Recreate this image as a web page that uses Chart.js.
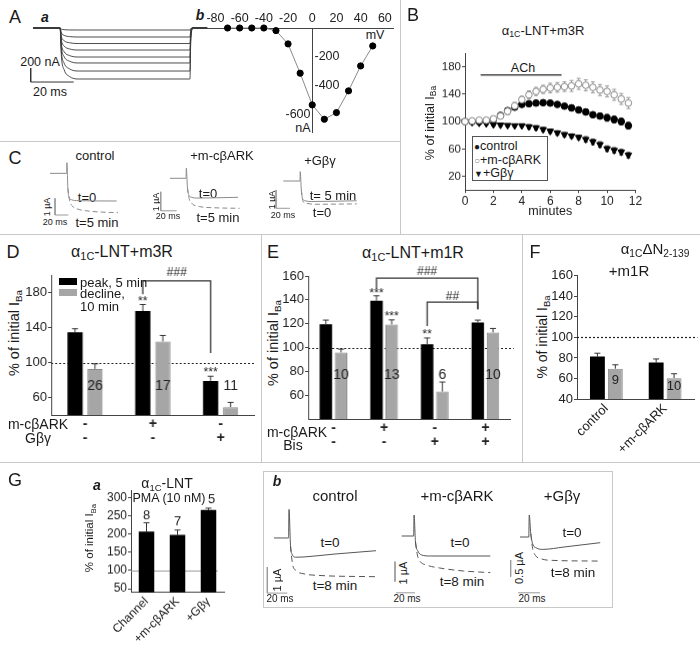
<!DOCTYPE html>
<html>
<head>
<meta charset="utf-8">
<title>Figure</title>
<script src="https://cdn.jsdelivr.net/npm/chart.js@4.4.1/dist/chart.umd.min.js"></script>
<style>
  body { margin: 0; background: #fff; font-family: "Liberation Sans", Arial, sans-serif; color: #1a1a1a; }
  #fig { position: relative; width: 700px; height: 650px; overflow: hidden; }
  .box { position: absolute; }
  .ln { position: absolute; background: #c8c8c8; }
  .t { position: absolute; white-space: nowrap; line-height: 1; transform: translate(-50%, -50%); }
  .tl { position: absolute; white-space: nowrap; line-height: 1; transform: translate(0, -50%); }
  .rot { position: absolute; white-space: nowrap; line-height: 1; transform: translate(-50%, -50%) rotate(-90deg); }
  .big { font-size: 18px; }
  .ital { font-weight: bold; font-style: italic; font-size: 14px; }
  sub { font-size: 0.68em; vertical-align: -0.3em; line-height: 0; }
</style>
</head>
<body>
<div id="fig">
  <!-- panel borders -->
  <div class="ln" style="left:0;top:141px;width:400px;height:1px"></div>
  <div class="ln" style="left:400px;top:0;width:1px;height:234px"></div>
  <div class="ln" style="left:0;top:234px;width:700px;height:1px"></div>
  <div class="ln" style="left:261px;top:234px;width:1px;height:228px"></div>
  <div class="ln" style="left:522px;top:234px;width:1px;height:228px"></div>
  <div class="ln" style="left:0;top:462px;width:700px;height:1px"></div>
  <div class="box" style="left:263px;top:471px;width:348px;height:135px;border:1px solid #c8c8c8"></div>

  <!-- A -->
  <div class="t big" style="left:15px;top:17px">A</div>
  <div class="t ital" style="left:45px;top:17px">a</div>
  <div class="t ital" style="left:200px;top:15px">b</div>
  <div class="t" style="left:40px;top:62px;font-size:12.5px">200 nA</div>
  <div class="t" style="left:50px;top:92px;font-size:12.5px">20 ms</div>
  <div class="t" style="left:375px;top:35px;font-size:12.5px">mV</div>
  <div class="t" style="left:303px;top:128px;font-size:12.5px">nA</div>
  <div class="box" id="famBox"><canvas></canvas></div>
  <div class="box" id="ivBox"><canvas></canvas></div>

  <!-- B -->
  <div class="t big" style="left:413px;top:15px">B</div>
  <div class="t" style="left:543px;top:30px;font-size:13px">α<sub>1C</sub>-LNT+m3R</div>
  <div class="t" style="left:523px;top:68px;font-size:12.5px">ACh</div>
  <div class="rot" style="left:430px;top:123px;font-size:12.5px">% of initial I<sub>Ba</sub></div>
  <div class="box" id="bBox"><canvas></canvas></div>
  <div class="box" style="left:472px;top:136px;width:74px;height:43px;border:1px solid #555;background:#fff"></div>
  <div class="tl" style="left:474px;top:146px;font-size:12.5px"><span style="font-size:10px">●</span>control</div>
  <div class="tl" style="left:474px;top:160px;font-size:12.5px"><span style="font-size:10px;color:#888">○</span>+m-cβARK</div>
  <div class="tl" style="left:474px;top:173px;font-size:12.5px"><span style="font-size:9px">▼</span>+Gβγ</div>

  <!-- C -->
  <div class="t big" style="left:15px;top:158px">C</div>
  <div class="t" style="left:95px;top:155px;font-size:13px">control</div>
  <div class="t" style="left:222px;top:155px;font-size:13px">+m-cβARK</div>
  <div class="t" style="left:320px;top:160px;font-size:13px">+Gβγ</div>
  <div class="t" style="left:87px;top:197px;font-size:13px">t=0</div>
  <div class="t" style="left:97px;top:222px;font-size:13px">t=5 min</div>
  <div class="t" style="left:208px;top:193px;font-size:13px">t=0</div>
  <div class="t" style="left:218px;top:217px;font-size:13px">t=5 min</div>
  <div class="t" style="left:333px;top:195px;font-size:13px">t= 5 min</div>
  <div class="t" style="left:322px;top:212px;font-size:13px">t=0</div>
  <div class="rot" style="left:47px;top:207px;font-size:9px">1 µA</div>
  <div class="rot" style="left:156px;top:202px;font-size:9px">1 µA</div>
  <div class="rot" style="left:272px;top:200px;font-size:9px">1 µA</div>
  <div class="t" style="left:55px;top:222px;font-size:9px">20 ms</div>
  <div class="t" style="left:168px;top:216px;font-size:9px">20 ms</div>
  <div class="t" style="left:283px;top:215px;font-size:9px">20 ms</div>
  <div class="box" id="cCtrlBox"><canvas></canvas></div>
  <div class="box" id="cArkBox"><canvas></canvas></div>
  <div class="box" id="cGbgBox"><canvas></canvas></div>

  <!-- D -->
  <div class="t big" style="left:13px;top:252px">D</div>
  <div class="t" style="left:122px;top:252px;font-size:16px">α<sub>1C</sub>-LNT+m3R</div>
  <div class="rot" style="left:14px;top:333px;font-size:14.5px">% of initial I<sub>Ba</sub></div>
  <div class="box" id="dBox"><canvas></canvas></div>
  <div class="box" style="left:59px;top:278px;width:18px;height:7px;background:#000"></div>
  <div class="tl" style="left:80px;top:282px;font-size:13px">peak, 5 min</div>
  <div class="box" style="left:59px;top:289px;width:18px;height:7px;background:#a6a6a6"></div>
  <div class="tl" style="left:80px;top:293px;font-size:13px">decline,</div>
  <div class="tl" style="left:80px;top:306px;font-size:13px">10 min</div>
  <div class="t" style="left:38px;top:424px;font-size:14px">m-cβARK</div>
  <div class="t" style="left:38px;top:438px;font-size:14px">Gβγ</div>

  <!-- E -->
  <div class="t big" style="left:273px;top:252px">E</div>
  <div class="t" style="left:413px;top:253px;font-size:16px">α<sub>1C</sub>-LNT+m1R</div>
  <div class="rot" style="left:273px;top:343px;font-size:14.5px">% of initial I<sub>Ba</sub></div>
  <div class="box" id="eBox"><canvas></canvas></div>
  <div class="t" style="left:297px;top:432px;font-size:14px">m-cβARK</div>
  <div class="t" style="left:293px;top:445px;font-size:14px">Bis</div>

  <!-- F -->
  <div class="t big" style="left:535px;top:252px">F</div>
  <div class="t" style="left:655px;top:248px;font-size:15px">α<sub>1C</sub>ΔN<sub>2-139</sub></div>
  <div class="t" style="left:629px;top:270px;font-size:15px">+m1R</div>
  <div class="rot" style="left:542px;top:337px;font-size:14px">% of initial I<sub>Ba</sub></div>
  <div class="box" id="fBox"><canvas></canvas></div>

  <!-- G -->
  <div class="t big" style="left:15px;top:480px">G</div>
  <div class="t ital" style="left:97px;top:485px">a</div>
  <div class="t" style="left:167px;top:483px;font-size:14px">α<sub>1C</sub>-LNT</div>
  <div class="t" style="left:169px;top:498px;font-size:12.5px">PMA (10 nM)</div>
  <div class="rot" style="left:90px;top:538px;font-size:11.5px">% of initial I<sub>Ba</sub></div>
  <div class="box" id="gaBox"><canvas></canvas></div>

  <div class="t ital" style="left:277px;top:481px">b</div>
  <div class="t" style="left:335px;top:495px;font-size:15px">control</div>
  <div class="t" style="left:457px;top:495px;font-size:15px">+m-cβARK</div>
  <div class="t" style="left:562px;top:495px;font-size:15px">+Gβγ</div>
  <div class="t" style="left:330px;top:543px;font-size:13.5px">t=0</div>
  <div class="t" style="left:335px;top:586px;font-size:13.5px">t=8 min</div>
  <div class="t" style="left:460px;top:543px;font-size:13.5px">t=0</div>
  <div class="t" style="left:462px;top:582px;font-size:13.5px">t=8 min</div>
  <div class="t" style="left:572px;top:533px;font-size:13.5px">t=0</div>
  <div class="t" style="left:573px;top:573px;font-size:13.5px">t=8 min</div>
  <div class="rot" style="left:277px;top:580px;font-size:11px">1 µA</div>
  <div class="rot" style="left:403px;top:573px;font-size:11px">1 µA</div>
  <div class="rot" style="left:519px;top:568px;font-size:11px">0.5 µA</div>
  <div class="t" style="left:280px;top:599px;font-size:10px">20 ms</div>
  <div class="t" style="left:407px;top:599px;font-size:10px">20 ms</div>
  <div class="t" style="left:532px;top:599px;font-size:10px">20 ms</div>
  <div class="box" id="gCtrlBox"><canvas></canvas></div>
  <div class="box" id="gArkBox"><canvas></canvas></div>
  <div class="box" id="gGbgBox"><canvas></canvas></div>
</div>

<script>
// ---- A a: family of currents (ms, nA)
const famTime = [0, 12.6, 13.2, 14.5, 17, 21, 73, 73.4, 74.5, 81];
const famTraces = [
  [0, 0, -16, -24, -28, -29, -29, -6, 0, 0],
  [0, 0, -71, -106, -123, -129, -129, -26, 0, 0],
  [0, 0, -122, -182, -211, -222, -222, -44, 0, 0],
  [0, 0, -173, -258, -299, -315, -315, -63, 0, 0],
  [0, 0, -228, -340, -394, -415, -415, -83, 0, 0],
  [0, 0, -275, -410, -475, -500, -500, -100, 0, 0],
  [0, 0, -338, -504, -584, -615, -615, -123, 0, 0],
  [0, 0, -401, -598, -693, -729, -729, -146, 0, 0]
];
const famScaleBar = [[-1.07, -572], [-1.07, -772], [18.93, -772]];

// ---- A b: I-V relation
const ivVoltage = [-70, -60, -50, -40, -30, -20, -10, 0, 10, 20, 30, 40, 50];
const ivCurrent = [0, 0, 0, 0, -18, -110, -312, -531, -630, -584, -434, -262, -124];
const ivXTicks = [-80, -60, -40, -20, 0, 20, 40, 60];
const ivYTicks = [-200, -400, -600];

// ---- B: time course
const bMinutes = [0, 0.5, 1, 1.5, 2, 2.5, 3, 3.5, 4, 4.5, 5, 5.5, 6, 6.5, 7, 7.5, 8, 8.5, 9, 9.5, 10, 10.5, 11, 11.5];
const bControl = [100, 100, 100, 101, 103, 109, 116, 121, 125, 126, 127, 127.5, 127, 125, 122.5, 120, 117, 114, 110, 108, 105.5, 103, 100, 94];
const bControlErr = [2, 2, 2, 2, 2, 3, 3, 3, 3, 3, 3, 3, 3, 3, 3, 4, 4, 4, 4, 4, 5, 5, 5, 5];
const bArk = [100, 101, 102, 102, 104, 108, 115, 123, 132, 139, 144, 147, 149, 150, 151, 152, 155, 153, 150, 146, 144, 139, 133, 127];
const bArkErr = [3, 3, 3, 3, 4, 4, 5, 5, 5, 6, 6, 6, 7, 7, 7, 8, 8, 8, 8, 8, 8, 8, 8, 8];
const bGbg = [100, 99, 98, 97, 95.5, 95, 94.5, 94, 94, 92.5, 91, 88.5, 86, 83.5, 81, 79, 77, 74, 70.5, 66.5, 60.5, 58, 55.5, 51];
const bGbgErr = [2, 2, 2, 2, 2, 2, 2, 2, 2, 3, 3, 3, 3, 3, 3, 3, 3, 4, 4, 4, 4, 4, 4, 4];
const bXTicks = [0, 2, 4, 6, 8, 10, 12];
const bYTicks = [20, 60, 100, 140, 180];
const achBar = [[1.1, 168], [6.8, 168]];

// ---- C: traces (ms, uA)
const cCtrlT0 = [[0, 0], [25, 0], [25.4, 0.64], [26.8, -0.9], [28.5, -1.42], [32, -1.58], [42, -1.64], [100, -1.66]];
const cCtrlT5 = [[26.8, -0.9], [29.5, -1.65], [34, -1.98], [42, -2.15], [55, -2.25], [75, -2.32], [102, -2.36]];
const cCtrlBar = [[7.5, -1.5], [7.5, -2.5], [27.5, -2.5]];
const cArkT0 = [[0, 0], [20, 0], [20.4, 0.53], [21.8, -0.5], [23.5, -0.88], [27, -1.0], [35, -1.04], [85, -1.0]];
const cArkT5 = [[21.8, -0.5], [24, -1.08], [28, -1.35], [37, -1.49], [55, -1.55], [87, -1.58]];
const cArkBar = [[-11.6, -0.71], [-11.6, -1.71], [8.4, -1.71]];
const cGbgT5 = [[0, 0], [23.8, 0], [24.2, 0.51], [25.8, -0.5], [27.5, -0.95], [31, -1.08], [40, -1.12], [105, -1.08]];
const cGbgT0 = [[25.8, -0.5], [28, -1.1], [33, -1.22], [45, -1.27], [105, -1.25]];
const cGbgBar = [[-10.4, -0.49], [-10.4, -1.49], [9.6, -1.49]];

// ---- D
const dGroups = [['-', '-'], ['+', '-'], ['-', '+']];
const dPeak = [134.6, 158.8, 79];
const dPeakErr = [4, 7.5, 5.3];
const dDecline = [92.7, 123.9, 49];
const dDeclineErr = [5.8, 7, 5.4];
const dCounts = ['26', '17', '11'];
const dYTicks = [60, 100, 140, 180];

// ---- E
const eGroups = [['-', '-'], ['+', '-'], ['-', '+'], ['+', '+']];
const ePeak = [119.6, 139.2, 102.8, 121];
const ePeakErr = [3.4, 4.2, 5.2, 2];
const eDecline = [95.8, 119.3, 63, 112.6];
const eDeclineErr = [2.8, 3.9, 8, 3.4];
const eCounts = ['10', '13', '6', '10'];
const eYTicks = [60, 80, 100, 120, 140, 160];

// ---- F
const fGroups = ['control', '+m-cβARK'];
const fPeak = [81.3, 75.5];
const fPeakErr = [3.3, 3.5];
const fDecline = [69.5, 60.3];
const fDeclineErr = [3.8, 4.3];
const fCounts = ['9', '10'];
const fYTicks = [40, 60, 80, 100, 120, 140, 160];

// ---- G a
const gaGroups = ['Channel', '+m-cβARK', '+Gβγ'];
const gaValues = [207, 198, 266];
const gaErr = [24, 13, 5];
const gaCounts = ['8', '7', '5'];
const gaYTicks = [50, 100, 150, 200, 250, 300];

// ---- G b: traces (ms, uA)
const gCtrlT0 = [[0, 0], [14.5, 0], [15, 1.1], [16.5, -0.3], [18, -0.62], [22, -0.74], [30, -0.73], [60, -0.62], [102, -0.49]];
const gCtrlT8 = [[16.5, -0.3], [18.5, -1.0], [22, -1.25], [30, -1.38], [45, -1.44], [102, -1.49]];
const gCtrlBar = [[-6.7, -1.12], [-6.7, -2.12], [13.3, -2.12]];
const gArkT0 = [[0, 0], [12.6, 0], [13, 1.05], [14.5, -0.3], [17, -0.75], [21, -0.95], [30, -1.0], [93, -1.0]];
const gArkT8 = [[14.5, -0.3], [16.5, -0.95], [19, -1.25], [26, -1.45], [40, -1.6], [65, -1.75], [93, -1.83]];
const gArkBarV = [[-7, -1.28], [-7, -2.28]];
const gArkBarH = [[-6, -2.84], [14, -2.84]];
const gGbgT0 = [[0, 0], [8, 0], [8.4, 0.66], [9.8, 0.1], [11.5, -0.2], [15, -0.33], [21, -0.37], [40, -0.3], [73, -0.17]];
const gGbgT8 = [[9.8, 0.1], [11.5, -0.35], [14, -0.55], [20, -0.66], [30, -0.7], [73, -0.72]];
const gGbgBarV = [[-8.5, -0.69], [-8.5, -1.19]];
const gGbgBarH = [[-1.8, -1.67], [18.2, -1.67]];

const FONT = '"Liberation Sans", Arial, sans-serif';
Chart.defaults.font.family = FONT;
Chart.defaults.color = '#222';
Chart.defaults.animation = false;
Chart.defaults.plugins.legend.display = false;
Chart.defaults.plugins.tooltip.enabled = false;

const pts = arr => arr.map(([x, y]) => ({ x, y }));
const xy = (xs, ys) => xs.map((x, i) => ({ x, y: ys[i] }));

// error bars, drawn from each point (or bar top) with the dataset's own y scale
const errorBars = {
  id: 'errorBars',
  beforeDatasetsDraw(chart) {
    const ctx = chart.ctx;
    chart.data.datasets.forEach((ds, i) => {
      if (!ds.errUp) return;
      const meta = chart.getDatasetMeta(i);
      const ys = chart.scales[meta.yAxisID];
      const cap = ds.errCap || 3;
      ctx.save();
      ctx.strokeStyle = ds.errColor || '#000';
      ctx.lineWidth = 1;
      meta.data.forEach((el, j) => {
        const raw = ds.data[j];
        const v = typeof raw === 'object' ? raw.y : raw;
        const top = ys.getPixelForValue(v + ds.errUp[j]);
        const bot = ys.getPixelForValue(v - (ds.errDown ? ds.errDown[j] : 0));
        ctx.beginPath();
        ctx.moveTo(el.x, bot); ctx.lineTo(el.x, top);
        ctx.moveTo(el.x - cap, top); ctx.lineTo(el.x + cap, top);
        if (ds.errDown) { ctx.moveTo(el.x - cap, bot); ctx.lineTo(el.x + cap, bot); }
        ctx.stroke();
      });
      ctx.restore();
    });
  }
};
Chart.register(errorBars);

// reference line, brackets and little labels on the bar charts
function marks(spec) {
  return {
    id: 'marks',
    beforeDatasetsDraw(chart) {
      if (!spec.ref) return;
      const { ctx, chartArea, scales: { y } } = chart;
      const py = Math.round(y.getPixelForValue(spec.ref.value)) + 0.5;
      ctx.save();
      ctx.strokeStyle = spec.ref.color;
      ctx.lineWidth = spec.ref.width || 1;
      ctx.setLineDash(spec.ref.dash || []);
      ctx.beginPath();
      ctx.moveTo(chartArea.left, py);
      ctx.lineTo(chartArea.right + (spec.ref.extend || 0), py);
      ctx.stroke();
      ctx.restore();
    },
    afterDatasetsDraw(chart) {
      const { ctx, scales: { y } } = chart;
      const barX = (ds, i) => chart.getDatasetMeta(ds).data[i].x;
      ctx.save();
      ctx.fillStyle = '#222';
      ctx.textAlign = 'center';
      ctx.textBaseline = 'middle';
      (spec.brackets || []).forEach(b => {
        const x1 = barX(b.from[1], b.from[0]), x2 = barX(b.to[1], b.to[0]);
        const yt = y.getPixelForValue(b.top);
        ctx.strokeStyle = '#333';
        ctx.lineWidth = 1.3;
        ctx.beginPath();
        ctx.moveTo(x1, y.getPixelForValue(b.fromEnd));
        ctx.lineTo(x1, yt); ctx.lineTo(x2, yt);
        ctx.lineTo(x2, y.getPixelForValue(b.toEnd));
        ctx.stroke();
        ctx.font = '12px ' + FONT;
        ctx.fillText(b.text, (x1 + x2) / 2, y.getPixelForValue(b.textAt));
      });
      (spec.labels || []).forEach(l => {
        ctx.font = l.size + 'px ' + FONT;
        ctx.fillText(l.text, barX(l.ds, l.i) + (l.dx || 0), y.getPixelForValue(l.value));
      });
      ctx.restore();
    }
  };
}

function mount(id, area, m, config) {
  const box = document.getElementById(id);
  const [l, t, r, b] = area;
  box.style.left = (l - m.pl - m.yw) + 'px';
  box.style.top = (t - m.pt - m.xt) + 'px';
  box.style.width = (r - l + m.pl + m.yw + m.pr) + 'px';
  box.style.height = (b - t + m.pt + m.xt + m.xb + m.pb) + 'px';
  config.options = config.options || {};
  config.options.responsive = true;
  config.options.maintainAspectRatio = false;
  config.options.layout = { autoPadding: false, padding: { left: m.pl, top: m.pt, right: m.pr, bottom: m.pb } };
  return new Chart(box.querySelector('canvas'), config);
}

const NOPAD = { pl: 0, yw: 0, pt: 0, xt: 0, pr: 0, xb: 0, pb: 0 };

function line(data, color, width, dash) {
  return { data: pts(data), borderColor: color, borderWidth: width, borderDash: dash || [],
    pointRadius: 0, cubicInterpolationMode: 'monotone', fill: false, clip: false };
}
const straight = (d, color) => Object.assign(line(d, color || '#9a9a9a', 1), { cubicInterpolationMode: 'default', tension: 0 });

function traceChart(id, rect, xr, yr, datasets) {
  return mount(id, rect, NOPAD, {
    type: 'line',
    data: { datasets },
    options: {
      scales: {
        x: { type: 'linear', display: false, min: xr[0], max: xr[1] },
        y: { type: 'linear', display: false, min: yr[0], max: yr[1] }
      }
    }
  });
}

// ---- A a
traceChart('famBox', [25, 20, 215, 90], [-3.72, 84.65], [-886, 114],
  famTraces.map(tr => line(famTime.map((t, i) => [t, tr[i]]), '#3a3a3a', 0.9))
    .concat([straight(famScaleBar, '#333')]));

// ---- A b
const ivAxis = {
  id: 'ivAxis',
  beforeDatasetsDraw(chart) {
    const { ctx, chartArea, scales: { x, y } } = chart;
    const x0 = Math.round(x.getPixelForValue(0)) + 0.5;
    ctx.save();
    ctx.strokeStyle = '#444';
    ctx.lineWidth = 1;
    ctx.beginPath();
    ctx.moveTo(x0, chartArea.top);
    ctx.lineTo(x0, chartArea.bottom);
    ctx.stroke();
    ctx.font = '12.5px ' + FONT;
    ctx.fillStyle = '#222';
    ctx.textBaseline = 'middle';
    ivYTicks.forEach(v => {
      const left = v <= -600;
      ctx.textAlign = left ? 'right' : 'left';
      ctx.fillText(String(v), x0 + (left ? -2 : 2), y.getPixelForValue(v));
    });
    ctx.restore();
  }
};
mount('ivBox', [206.7, 28, 393, 133], { pl: 12, yw: 0, pt: 0, xt: 16, pr: 8, xb: 0, pb: 0 }, {
  type: 'line',
  data: { datasets: [{
    data: xy(ivVoltage, ivCurrent), borderColor: '#8a8a8a', borderWidth: 1, tension: 0,
    pointRadius: 3.1, pointBackgroundColor: '#000', pointBorderColor: '#000', clip: false
  }] },
  options: {
    scales: {
      x: { type: 'linear', position: 'top', min: -87, max: 67,
        grid: { display: false, drawTicks: false }, border: { display: true, color: '#444' },
        ticks: { font: { size: 12.5 }, padding: 2 },
        afterBuildTicks: s => { s.ticks = ivXTicks.map(v => ({ value: v })); },
        afterFit: s => { s.height = 16; } },
      y: { type: 'linear', display: false, min: -725, max: 0 }
    }
  },
  plugins: [ivAxis]
});

// ---- B
mount('bBox', [464.5, 53.4, 635, 189.6], { pl: 4, yw: 28, pt: 8, xt: 0, pr: 10, xb: 29, pb: 2 }, {
  type: 'line',
  data: { datasets: [
    { data: pts(achBar), borderColor: '#444', borderWidth: 1.6, pointRadius: 0 },
    { data: xy(bMinutes, bArk), errUp: bArkErr, errDown: bArkErr, errColor: '#9a9a9a', errCap: 2,
      showLine: false, pointRadius: 3.3, pointBackgroundColor: '#fff', pointBorderColor: '#8a8a8a', pointBorderWidth: 1, clip: false },
    { data: xy(bMinutes, bControl), errUp: bControlErr, errDown: bControlErr, errColor: '#333', errCap: 2,
      showLine: false, pointRadius: 3.3, pointBackgroundColor: '#000', pointBorderColor: '#000', clip: false },
    { data: xy(bMinutes, bGbg), errUp: bGbgErr, errDown: bGbgErr, errColor: '#333', errCap: 2,
      showLine: false, pointStyle: 'triangle', pointRotation: 180, pointRadius: 3.8,
      pointBackgroundColor: '#000', pointBorderColor: '#000', clip: false }
  ] },
  options: {
    scales: {
      x: { type: 'linear', min: 0, max: 12,
        grid: { drawOnChartArea: false, tickLength: 3, color: '#444' }, border: { display: true, color: '#444' },
        ticks: { font: { size: 12 }, padding: 1 },
        title: { display: true, text: 'minutes', font: { size: 12.5 }, padding: 0 },
        afterBuildTicks: s => { s.ticks = bXTicks.map(v => ({ value: v })); },
        afterFit: s => { s.height = 29; } },
      y: { type: 'linear', min: 0, max: 200,
        grid: { drawOnChartArea: false, tickLength: 3, color: '#444' }, border: { display: true, color: '#444' },
        ticks: { font: { size: 11.5 }, padding: 1 },
        afterBuildTicks: s => { s.ticks = bYTicks.map(v => ({ value: v })); },
        afterFit: s => { s.width = 28; } }
    }
  }
});

// ---- C
traceChart('cCtrlBox', [45, 155, 125, 225], [-7.5, 112.5], [-3.1, 1.1], [
  line(cCtrlT0, '#8a8a8a', 1), line(cCtrlT5, '#8a8a8a', 1, [5, 3]), straight(cCtrlBar)
]);
traceChart('cArkBox', [150, 160, 245, 220], [-25, 93.75], [-2.195, 0.963], [
  line(cArkT0, '#8a8a8a', 1), line(cArkT5, '#8a8a8a', 1, [5, 3]), straight(cArkBar)
]);
traceChart('cGbgBox', [270, 165, 365, 220], [-19, 116.8], [-2.13, 0.874], [
  line(cGbgT5, '#8a8a8a', 1), line(cGbgT0, '#8a8a8a', 1, [5, 3]), straight(cGbgBar)
]);

// ---- bar charts
function barSet(values, err, color, border, pct) {
  return { data: values, errUp: err, errColor: '#333', errCap: 3,
    backgroundColor: color, borderColor: border || color, borderWidth: border ? 1 : 0,
    categoryPercentage: pct[0], barPercentage: pct[1] };
}
function barScales(m, yMin, yMax, yTicks, yFont, xFont, rot) {
  return {
    x: { grid: { display: false, drawTicks: false }, border: { display: true, color: '#444' },
      ticks: { autoSkip: false, font: xFont, padding: 2, maxRotation: rot, minRotation: rot, color: '#222' },
      afterFit: s => { s.height = m.xb; } },
    y: { min: yMin, max: yMax,
      grid: { drawOnChartArea: false, tickLength: 3, color: '#444' }, border: { display: true, color: '#444' },
      ticks: { font: { size: yFont }, padding: 1 },
      afterBuildTicks: s => { s.ticks = yTicks.map(v => ({ value: v })); },
      afterFit: s => { s.width = m.yw; } }
  };
}

const mD = { pl: 4, yw: 26, pt: 26, xt: 0, pr: 6, xb: 34, pb: 2 };
mount('dBox', [51, 275, 253.5, 415], mD, {
  type: 'bar',
  data: { labels: dGroups, datasets: [
    barSet(dPeak, dPeakErr, '#000', null, [0.59, 0.76]),
    barSet(dDecline, dDeclineErr, '#a6a6a6', '#8a8a8a', [0.59, 0.76])
  ] },
  options: { scales: barScales(mD, 40, 200, dYTicks, 13, { size: 14, weight: 'bold', lineHeight: 1 }, 0) },
  plugins: [marks({
    ref: { value: 100, color: '#222', dash: [2, 2], width: 1.2 },
    brackets: [{ from: [1, 0], to: [2, 0], top: 193.4, fromEnd: 178, toEnd: 111, text: '###', textAt: 203 }],
    labels: [
      { i: 1, ds: 0, value: 169.5, text: '**', size: 12 },
      { i: 2, ds: 0, value: 88, text: '***', size: 12 }
    ].concat(dCounts.map((c, i) => ({ i, ds: 1, value: 73, text: c, size: 14 })))
  })]
});

const mE = { pl: 4, yw: 28, pt: 10, xt: 0, pr: 6, xb: 34, pb: 2 };
mount('eBox', [308.3, 276, 510, 419], mE, {
  type: 'bar',
  data: { labels: eGroups, datasets: [
    barSet(ePeak, ePeakErr, '#000', null, [0.6, 0.82]),
    barSet(eDecline, eDeclineErr, '#a6a6a6', '#8a8a8a', [0.6, 0.82])
  ] },
  options: { scales: barScales(mE, 40, 160, eYTicks, 13, { size: 14, weight: 'bold', lineHeight: 1 }, 0) },
  plugins: [marks({
    ref: { value: 100, color: '#222', dash: [2, 2], width: 1.2, extend: 3 },
    brackets: [
      { from: [1, 0], to: [3, 0], top: 158.2, fromEnd: 149, toEnd: 132.2, text: '###', textAt: 164 },
      { from: [2, 0], to: [3, 0], top: 138, fromEnd: 118, toEnd: 132.2, text: '##', textAt: 143 }
    ],
    labels: [
      { i: 1, ds: 0, value: 145, text: '***', size: 12 },
      { i: 1, ds: 1, value: 125.5, text: '***', size: 12 },
      { i: 2, ds: 0, value: 111, text: '**', size: 12 }
    ].concat(eCounts.map((c, i) => ({ i, ds: 1, value: 77, text: c, size: 14 })))
  })]
});

const mF = { pl: 4, yw: 28, pt: 6, xt: 0, pr: 5, xb: 60, pb: 2 };
mount('fBox', [576.5, 273.3, 694, 399.3], mF, {
  type: 'bar',
  data: { labels: fGroups, datasets: [
    barSet(fPeak, fPeakErr, '#000', null, [0.61, 0.83]),
    barSet(fDecline, fDeclineErr, '#a6a6a6', '#8a8a8a', [0.61, 0.83])
  ] },
  options: { scales: barScales(mF, 40, 160, fYTicks, 13, { size: 13 }, 45) },
  plugins: [marks({
    ref: { value: 100, color: '#222', dash: [2, 2], width: 1.2, extend: 3 },
    labels: [
      { i: 0, ds: 1, value: 58.4, text: fCounts[0], size: 13 },
      { i: 1, ds: 1, value: 51.8, text: fCounts[1], size: 13 }
    ]
  })]
});

const mG = { pl: 4, yw: 26, pt: 4, xt: 0, pr: 6, xb: 55, pb: 2 };
mount('gaBox', [131, 486.4, 224, 592.1], mG, {
  type: 'bar',
  data: { labels: gaGroups, datasets: [
    barSet(gaValues, gaErr, '#000', null, [1, 0.5])
  ] },
  options: { scales: barScales(mG, 40, 320, gaYTicks, 12, { size: 12 }, 45) },
  plugins: [marks({
    ref: { value: 100, color: '#9a9a9a', dash: [], width: 1, extend: -6 },
    labels: [
      { i: 0, ds: 0, value: 250, text: gaCounts[0], size: 13 },
      { i: 1, ds: 0, value: 232.5, text: gaCounts[1], size: 13 },
      { i: 2, ds: 0, value: 294.7, text: gaCounts[2], size: 13, dx: 3 }
    ]
  })]
});

// ---- G b
traceChart('gCtrlBox', [263, 500, 380, 600], [-11, 106], [-2.385, 1.46], [
  line(gCtrlT0, '#555', 1), line(gCtrlT8, '#555', 1, [6, 4]), straight(gCtrlBar)
]);
traceChart('gArkBox', [385, 500, 500, 600], [-17.5, 103.2], [-3.2, 1.8], [
  line(gArkT0, '#555', 1), line(gArkT8, '#555', 1, [6, 4]), straight(gArkBarV), straight(gArkBarH)
]);
traceChart('gGbgBox', [505, 500, 610, 600], [-13.65, 81.9], [-1.886, 1.108], [
  line(gGbgT0, '#555', 1), line(gGbgT8, '#555', 1, [6, 4]), straight(gGbgBarV), straight(gGbgBarH)
]);
</script>
</body>
</html>
